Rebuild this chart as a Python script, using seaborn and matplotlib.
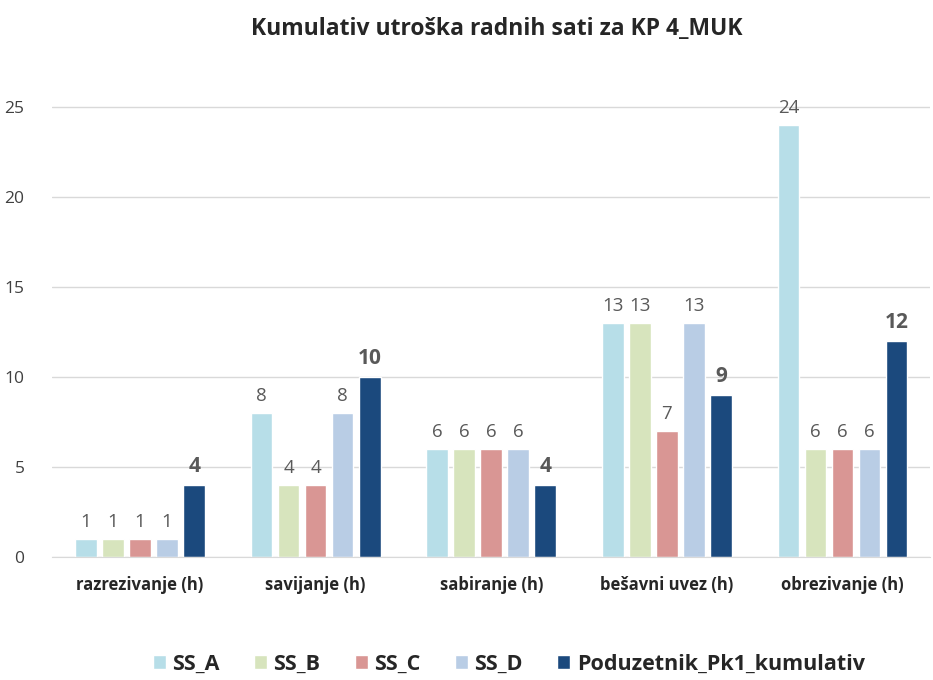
import pandas as pd
import matplotlib.pyplot as plt
import seaborn as sns

categories = ['razrezivanje (h)', 'savijanje (h)', 'sabiranje (h)', 'bešavni uvez (h)', 'obrezivanje (h)']
series = ['SS_A', 'SS_B', 'SS_C', 'SS_D', 'Poduzetnik_Pk1_kumulativ']
ss_a = [1, 8, 6, 13, 24]
ss_b = [1, 4, 6, 13, 6]
ss_c = [1, 4, 6, 7, 6]
ss_d = [1, 8, 6, 13, 6]
pk1 = [4, 10, 4, 9, 12]
colors = ['#B7DEE8', '#D7E4BD', '#D99694', '#B9CDE5', '#1B497D']

# long format for seaborn
rows = []
for name, vals in zip(series, [ss_a, ss_b, ss_c, ss_d, pk1]):
    for cat, v in zip(categories, vals):
        rows.append({'kategorija': cat, 'serija': name, 'sati': v})
df = pd.DataFrame(rows)

sns.set_style('white')
plt.rcParams['font.family'] = ['Open Sans', 'DejaVu Sans']

fig, ax = plt.subplots(figsize=(9.33, 6.8), dpi=100)
fig.subplots_adjust(left=0.056, right=0.997, top=0.909, bottom=0.181)

sns.barplot(data=df, x='kategorija', y='sati', hue='serija', order=categories,
            hue_order=series, palette=colors, width=0.77, gap=0.2,
            saturation=1, ax=ax)

for i, cont in enumerate(ax.containers):
    if i == len(ax.containers) - 1:
        ax.bar_label(cont, padding=6, fontsize=15, fontweight='bold', color='#595959')
    else:
        ax.bar_label(cont, padding=6, fontsize=13.5, color='#595959')

ax.set_ylim(0, 27.5)
ax.set_yticks([0, 5, 10, 15, 20, 25])
ax.yaxis.grid(True, color='#D9D9D9', linewidth=1)
ax.set_axisbelow(True)
for s in ['top', 'right', 'left']:
    ax.spines[s].set_visible(False)
ax.spines['bottom'].set_color('#D9D9D9')
ax.tick_params(axis='y', labelsize=12.5, colors='#404040', length=0, pad=20)
ax.tick_params(axis='x', length=0, pad=14)
for lab in ax.get_xticklabels():
    lab.set_fontweight('bold')
    lab.set_fontsize(12)
ax.set_xlabel('')
ax.set_ylabel('')

fig.suptitle('Kumulativ utroška radnih sati za KP 4_MUK', fontsize=16.5, fontweight='bold',
             x=0.532, y=0.975)

leg = ax.legend(loc='center', bbox_to_anchor=(0.52, -0.216), ncol=5, frameon=False,
                fontsize=15.5, handlelength=0.6, handleheight=0.6, handletextpad=0.3,
                columnspacing=1.6)
for t in leg.get_texts():
    t.set_fontweight('bold')

plt.savefig('out.png', dpi=100)
